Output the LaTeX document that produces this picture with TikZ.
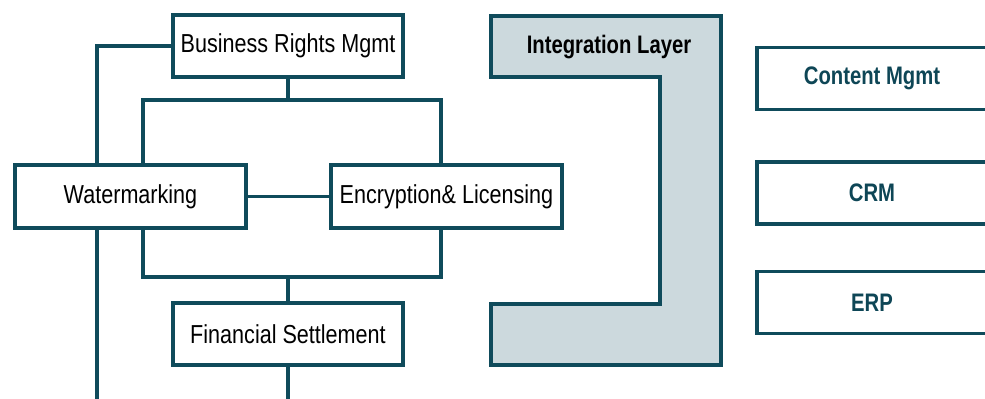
\documentclass[tikz,border=0pt]{standalone}
\usepackage{fontspec}
\setmainfont{Liberation Sans}
\newfontfamily\narrowfont[FakeStretch=0.83]{Liberation Sans}
\newfontfamily\narrowbold[FakeStretch=0.8]{Liberation Sans}
\usetikzlibrary{backgrounds}
\definecolor{linecol}{HTML}{0F4B5B}
\definecolor{layerfill}{HTML}{CCD9DD}
\definecolor{tealtext}{HTML}{0E4656}
\newlength{\pxu}
\setlength{\pxu}{0.75pt}
\tikzset{
  wire/.style={draw=linecol, line width=2.3pt},
  unit/.style={draw=linecol, line width=2.3pt, fill=white, minimum width=230\pxu, minimum height=62\pxu,
               inner sep=0pt, font=\narrowfont\fontsize{19.5}{22}\selectfont, text=black},
  system/.style={unit, font=\narrowbold\bfseries\fontsize{19}{22}\selectfont, text=tealtext},
}
\begin{document}
\begin{tikzpicture}[x=0.75pt, y=-0.75pt]
\useasboundingbox (0,0) rectangle (985,399);

% rights-management components
\node[unit] (brm) at (288,46) {Business Rights Mgmt};
\node[unit, minimum width=231\pxu, minimum height=63\pxu] (wm) at (130.5,196.5) {Watermarking};
\node[unit, minimum width=231\pxu, minimum height=63\pxu] (enc) at (446.5,196.5) {Encryption\& Licensing};
\node[unit] (fs) at (288,334) {Financial Settlement};

% branch points of the connector tree
\coordinate (xa) at (143,0);
\coordinate (xb) at (441,0);
\coordinate (jt) at (288,100);
\coordinate (jb) at (288,277);
\coordinate (leftend) at (97,402);
\coordinate (fsend) at (288,402);

\begin{scope}[on background layer]
  \draw[wire] (brm.west) -| (leftend);
\end{scope}
\draw[wire] (brm.south) -- (jt);
\draw[wire] (wm.north -| xa) |- (jt) -| (enc.north -| xb);
\draw[wire] (wm) -- (enc);
\draw[wire] (wm.south -| xa) |- (jb) -| (enc.south -| xb);
\draw[wire] (jb) -- (fs.north);
\draw[wire] (fs.south) -- (fsend);

% integration layer bracket
\draw[draw=linecol, line width=2.3pt, fill=layerfill]
  (491,16) -- (721,16) -- (721,365) -- (491,365) -- (491,304)
  -- (660,304) -- (660,77) -- (491,77) -- cycle;
\node[font=\narrowbold\bfseries\fontsize{19}{22}\selectfont] (il) at (609,47) {Integration Layer};

% enterprise systems
\node[system] (cm) at (872,78.5) {Content Mgmt};
\node[system] (crm) at (872,193) {CRM};
\node[system] (erp) at (872,302.5) {ERP};
\end{tikzpicture}
\end{document}
